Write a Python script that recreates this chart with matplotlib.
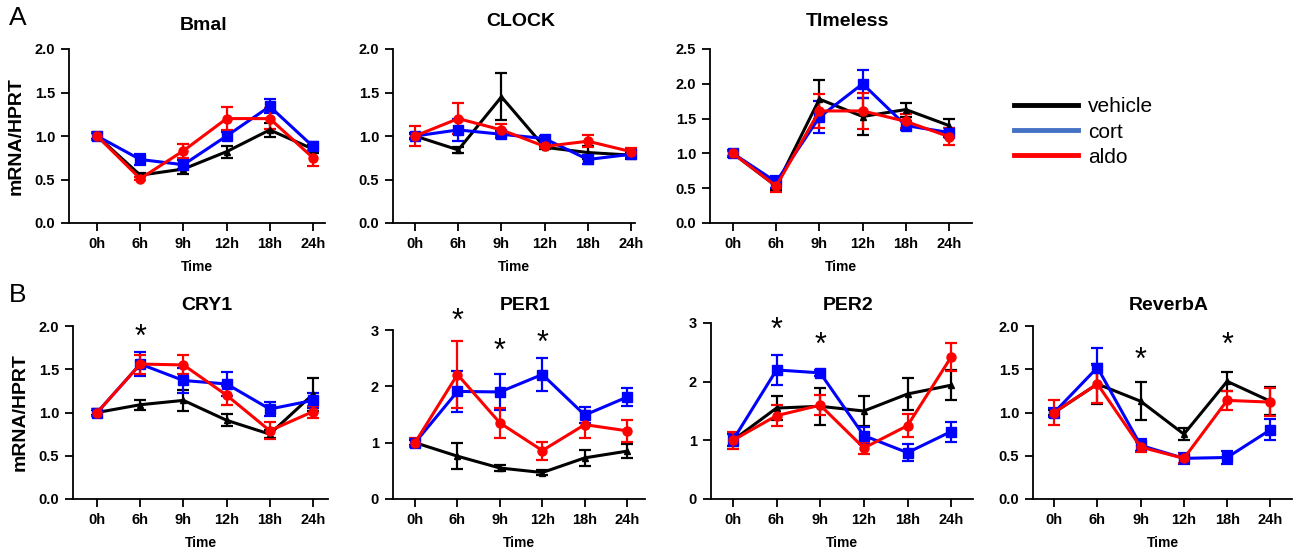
import matplotlib
matplotlib.use("Agg")
import matplotlib.pyplot as plt
from matplotlib.lines import Line2D

plt.rcParams['font.family'] = ['Liberation Sans', 'DejaVu Sans']

times = ["0h", "6h", "9h", "12h", "18h", "24h"]
groups = ["vehicle", "cort", "aldo"]
colors = {"vehicle": "#000000", "cort": "#0000ff", "aldo": "#ff0000"}
legend_colors = {"vehicle": "#000000", "cort": "#4472c4", "aldo": "#ff0000"}
markers = {"vehicle": "^", "cort": "s", "aldo": "o"}

# mean values
bmal_vehicle = [1.0, 0.55, 0.62, 0.82, 1.07, 0.85]
bmal_cort = [1.0, 0.73, 0.67, 1.0, 1.34, 0.88]
bmal_aldo = [1.0, 0.51, 0.83, 1.2, 1.2, 0.75]
bmal_vehicle_err = [0.04, 0.02, 0.06, 0.07, 0.08, 0.05]
bmal_cort_err = [0.04, 0.06, 0.05, 0.05, 0.08, 0.05]
bmal_aldo_err = [0.05, 0.02, 0.08, 0.13, 0.12, 0.09]

clock_vehicle = [1.0, 0.84, 1.45, 0.87, 0.81, 0.78]
clock_cort = [1.0, 1.07, 1.02, 0.97, 0.73, 0.79]
clock_aldo = [1.0, 1.2, 1.07, 0.88, 0.94, 0.82]
clock_vehicle_err = [0.03, 0.03, 0.27, 0.02, 0.07, 0.04]
clock_cort_err = [0.02, 0.13, 0.04, 0.03, 0.05, 0.04]
clock_aldo_err = [0.12, 0.18, 0.07, 0.02, 0.07, 0.04]

timeless_vehicle = [1.0, 0.53, 1.78, 1.53, 1.63, 1.40]
timeless_cort = [1.0, 0.59, 1.52, 2.0, 1.40, 1.30]
timeless_aldo = [1.0, 0.53, 1.61, 1.61, 1.46, 1.24]
timeless_vehicle_err = [0.04, 0.05, 0.28, 0.27, 0.10, 0.09]
timeless_cort_err = [0.05, 0.08, 0.23, 0.20, 0.06, 0.07]
timeless_aldo_err = [0.04, 0.08, 0.25, 0.26, 0.10, 0.12]

cry1_vehicle = [1.0, 1.09, 1.14, 0.91, 0.75, 1.21]
cry1_cort = [1.0, 1.56, 1.37, 1.33, 1.04, 1.14]
cry1_aldo = [1.0, 1.56, 1.55, 1.20, 0.79, 1.01]
cry1_vehicle_err = [0.03, 0.06, 0.12, 0.07, 0.05, 0.19]
cry1_cort_err = [0.04, 0.14, 0.15, 0.14, 0.08, 0.09]
cry1_aldo_err = [0.04, 0.11, 0.11, 0.11, 0.10, 0.07]

per1_vehicle = [1.0, 0.76, 0.55, 0.47, 0.73, 0.85]
per1_cort = [1.0, 1.91, 1.90, 2.21, 1.49, 1.81]
per1_aldo = [1.0, 2.21, 1.35, 0.86, 1.32, 1.21]
per1_vehicle_err = [0.05, 0.23, 0.05, 0.04, 0.14, 0.13]
per1_cort_err = [0.06, 0.36, 0.32, 0.29, 0.14, 0.16]
per1_aldo_err = [0.08, 0.60, 0.26, 0.16, 0.24, 0.19]

per2_vehicle = [1.0, 1.55, 1.58, 1.50, 1.79, 1.94]
per2_cort = [1.0, 2.20, 2.15, 1.08, 0.79, 1.15]
per2_aldo = [1.0, 1.42, 1.60, 0.87, 1.25, 2.42]
per2_vehicle_err = [0.10, 0.20, 0.32, 0.26, 0.28, 0.26]
per2_cort_err = [0.10, 0.26, 0.05, 0.15, 0.15, 0.17]
per2_aldo_err = [0.14, 0.18, 0.17, 0.11, 0.20, 0.24]

reverba_vehicle = [1.0, 1.33, 1.13, 0.75, 1.36, 1.13]
reverba_cort = [1.0, 1.52, 0.62, 0.47, 0.48, 0.80]
reverba_aldo = [1.0, 1.33, 0.60, 0.47, 1.14, 1.12]
reverba_vehicle_err = [0.03, 0.23, 0.22, 0.07, 0.11, 0.16]
reverba_cort_err = [0.05, 0.23, 0.07, 0.06, 0.08, 0.12]
reverba_aldo_err = [0.14, 0.22, 0.06, 0.05, 0.11, 0.16]

# significance markers (time index, y value)
cry1_stars = [(1, 1.86)]
per1_stars = [(1, 3.15), (2, 2.62), (3, 2.76)]
per2_stars = [(1, 2.87), (2, 2.61)]
reverba_stars = [(2, 1.60), (4, 1.77)]

W, H = 1295, 555
fig = plt.figure(figsize=(W / 100, H / 100), dpi=100)


def px_axes(left, right, top, bottom):
    return fig.add_axes([left / W, 1 - bottom / H, (right - left) / W, (bottom - top) / H])


panels = [
    dict(title="Bmal", box=(69, 325, 49, 223), xlim=(-0.65, 5.28), ylim=(0, 2.0),
         yticks=[0, 0.5, 1.0, 1.5, 2.0], fmt="{:.1f}", ylabel=True,
         data=(bmal_vehicle, bmal_cort, bmal_aldo),
         err=(bmal_vehicle_err, bmal_cort_err, bmal_aldo_err), stars=[], title_y=25),
    dict(title="CLOCK", box=(393, 635, 49, 223), xlim=(-0.51, 5.09), ylim=(0, 2.0),
         yticks=[0, 0.5, 1.0, 1.5, 2.0], fmt="{:.1f}", ylabel=False,
         data=(clock_vehicle, clock_cort, clock_aldo),
         err=(clock_vehicle_err, clock_cort_err, clock_aldo_err), stars=[], title_y=21),
    dict(title="TImeless", box=(710, 972, 49, 223), xlim=(-0.53, 5.53), ylim=(0, 2.5),
         yticks=[0, 0.5, 1.0, 1.5, 2.0, 2.5], fmt="{:.1f}", ylabel=False,
         data=(timeless_vehicle, timeless_cort, timeless_aldo),
         err=(timeless_vehicle_err, timeless_cort_err, timeless_aldo_err), stars=[], title_y=22),
    dict(title="CRY1", box=(73, 328, 326, 499), xlim=(-0.56, 5.35), ylim=(0, 2.0),
         yticks=[0, 0.5, 1.0, 1.5, 2.0], fmt="{:.1f}", ylabel=True,
         data=(cry1_vehicle, cry1_cort, cry1_aldo),
         err=(cry1_vehicle_err, cry1_cort_err, cry1_aldo_err), stars=cry1_stars, title_y=305),
    dict(title="PER1", box=(393, 645, 330, 499), xlim=(-0.52, 5.42), ylim=(0, 3),
         yticks=[0, 1, 2, 3], fmt="{:.0f}", ylabel=False,
         data=(per1_vehicle, per1_cort, per1_aldo),
         err=(per1_vehicle_err, per1_cort_err, per1_aldo_err), stars=per1_stars, title_y=305),
    dict(title="PER2", box=(711, 973, 323, 499), xlim=(-0.5, 5.5), ylim=(0, 3),
         yticks=[0, 1, 2, 3], fmt="{:.0f}", ylabel=False,
         data=(per2_vehicle, per2_cort, per2_aldo),
         err=(per2_vehicle_err, per2_cort_err, per2_aldo_err), stars=per2_stars, title_y=305),
    dict(title="ReverbA", box=(1033, 1292, 326, 499), xlim=(-0.49, 5.5), ylim=(0, 2.0),
         yticks=[0, 0.5, 1.0, 1.5, 2.0], fmt="{:.1f}", ylabel=False,
         data=(reverba_vehicle, reverba_cort, reverba_aldo),
         err=(reverba_vehicle_err, reverba_cort_err, reverba_aldo_err), stars=reverba_stars, title_y=305),
]

x = list(range(len(times)))
msize = {"vehicle": 5, "cort": 7, "aldo": 6.5}

for p in panels:
    l, r, t, b = p["box"]
    ax = px_axes(l, r, t, b)
    for g, y, e in zip(groups, p["data"], p["err"]):
        ax.errorbar(x, y, yerr=e, color=colors[g], marker=markers[g], markersize=msize[g],
                    linewidth=2.2, elinewidth=1.6, capsize=4, capthick=1.6, zorder=3,
                    clip_on=False)
    for xi, ys in p["stars"]:
        ax.text(xi, ys, "*", ha="center", va="center", fontsize=22, color="black")
    ax.set_xlim(*p["xlim"])
    ax.set_ylim(*p["ylim"])
    ax.set_xticks(x)
    ax.set_xticklabels(times, fontsize=10.5, fontweight="bold")
    ax.set_yticks(p["yticks"])
    ax.set_yticklabels([p["fmt"].format(v) for v in p["yticks"]], fontsize=10.5, fontweight="bold")
    for s in ["top", "right"]:
        ax.spines[s].set_visible(False)
    for s in ["left", "bottom"]:
        ax.spines[s].set_linewidth(1.3)
    ax.tick_params(width=1.3, length=6, pad=4)
    ax.set_xlabel("Time", fontsize=10, fontweight="bold", labelpad=6.5)
    if p["ylabel"]:
        ax.set_ylabel("mRNA/HPRT", fontsize=14, fontweight="bold", labelpad=7)
    fig.text((l + r) / 2 / W + 0.005, 1 - p["title_y"] / H, p["title"], ha="center", va="center",
             fontsize=14, fontweight="bold")

fig.text(9 / W, 1 - 18 / H, "A", fontsize=19, va="center", ha="left")
fig.text(9 / W, 1 - 295 / H, "B", fontsize=19, va="center", ha="left")

handles = [Line2D([0], [0], color=legend_colors[g], linewidth=3.5) for g in groups]
fig.legend(handles, groups, loc="center left", bbox_to_anchor=(995 / W, 1 - 132 / H),
           frameon=False, fontsize=15, handlelength=3.1, labelspacing=0.3, handletextpad=0.45)

fig.savefig("out.png", dpi=100)
